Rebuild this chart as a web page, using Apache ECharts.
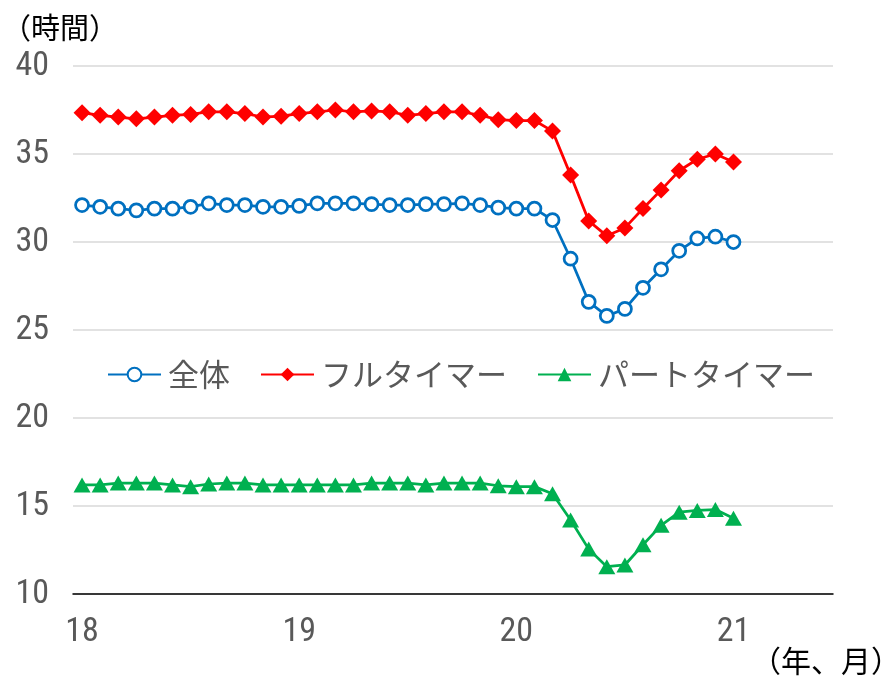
<!DOCTYPE html>
<html>
<head>
<meta charset="utf-8">
<script src="https://cdn.jsdelivr.net/npm/echarts@6/dist/echarts.min.js"></script>
<style>
  html, body { margin: 0; padding: 0; background: #fff; }
  #chart { width: 889px; height: 681px; }
</style>
</head>
<body>
<div id="chart"></div>
<script>
// Monthly categories Jan 2018 – Jun 2021 (data runs through Jan 2021)
const years = [2018, 2019, 2020, 2021];
const yearLabels = ['18', '19', '20', '21'];
const monthCount = 42;

// Average weekly working hours (時間)
const total = [
  32.1, 32.0, 31.9, 31.8, 31.9, 31.9, 32.0, 32.2, 32.1, 32.1, 32.0, 32.0,
  32.05, 32.2, 32.2, 32.2, 32.15, 32.1, 32.1, 32.15, 32.15, 32.2, 32.1, 31.95,
  31.9, 31.9, 31.25, 29.05, 26.6, 25.8, 26.2, 27.4, 28.45, 29.5, 30.2, 30.3,
  30.0
];
const fullTime = [
  37.35, 37.2, 37.1, 37.0, 37.1, 37.2, 37.25, 37.4, 37.4, 37.3, 37.1, 37.15,
  37.3, 37.4, 37.5, 37.4, 37.45, 37.4, 37.2, 37.3, 37.4, 37.4, 37.2, 36.95,
  36.9, 36.9, 36.3, 33.8, 31.2, 30.35, 30.8, 31.9, 32.95, 34.05, 34.7, 35.0,
  34.55
];
const partTime = [
  16.2, 16.2, 16.3, 16.3, 16.3, 16.2, 16.1, 16.25, 16.3, 16.3, 16.2, 16.2,
  16.2, 16.2, 16.2, 16.2, 16.3, 16.3, 16.3, 16.2, 16.3, 16.3, 16.3, 16.15,
  16.1, 16.1, 15.7, 14.2, 12.55, 11.55, 11.65, 12.8, 13.9, 14.65, 14.75, 14.8,
  14.3
];
const seriesNames = ['全体', 'フルタイマー', 'パートタイマー'];

const categories = [];
for (let i = 0; i < monthCount; i++) {
  const y = years[Math.floor(i / 12)];
  const m = (i % 12) + 1;
  categories.push(y + '-' + String(m).padStart(2, '0'));
}

const numFont = '"Roboto Condensed", Roboto, sans-serif';
const jpFont = '"Noto Sans CJK JP", sans-serif';
const gray = '#595959';

const chart = echarts.init(document.getElementById('chart'), null, { renderer: 'canvas' });

const option = {
  animation: false,
  backgroundColor: '#ffffff',
  title: [
    { text: '（時間）', left: 2, top: 13, padding: 0,
      textStyle: { fontFamily: jpFont, fontSize: 29, fontWeight: 'normal', color: '#000' } },
    { text: '（年、月）', left: 751, top: 646, padding: 0,
      textStyle: { fontFamily: jpFont, fontSize: 30, fontWeight: 'normal', color: '#000' } }
  ],
  legend: {
    data: seriesNames,
    left: 107,
    top: 359,
    padding: 0,
    itemWidth: 53,
    itemHeight: 17,
    itemGap: 30,
    textStyle: { fontFamily: jpFont, fontSize: 31, color: gray, padding: [0, 0, 0, 2] }
  },
  grid: { left: 73, right: 56, top: 66, bottom: 87, containLabel: false },
  xAxis: [
    {
      type: 'category',
      data: categories,
      boundaryGap: true,
      axisLine: { lineStyle: { color: '#000', width: 1.5 } },
      axisTick: { inside: true, length: 5, interval: 0, lineStyle: { color: '#000', width: 1.5 } },
      axisLabel: {
        interval: 0,
        margin: 21,
        fontFamily: numFont,
        fontSize: 34,
        color: gray,
        formatter: function (val, idx) {
          return idx % 12 === 0 ? yearLabels[idx / 12] : '';
        }
      },
      splitLine: { show: false }
    },
    {
      // longer ticks on the year boundaries
      type: 'category',
      data: categories,
      boundaryGap: true,
      position: 'bottom',
      axisLine: { show: false },
      axisTick: {
        inside: true, length: 8,
        interval: function (idx) { return idx % 12 === 0; },
        lineStyle: { color: '#000', width: 1.5 }
      },
      axisLabel: { show: false },
      splitLine: { show: false }
    }
  ],
  yAxis: {
    type: 'value',
    min: 10,
    max: 40,
    interval: 5,
    axisLine: { show: false },
    axisTick: { show: false },
    axisLabel: { margin: 24, fontFamily: numFont, fontSize: 34, color: gray },
    splitLine: { lineStyle: { color: '#d9d9d9', width: 1.5 } }
  },
  series: [
    {
      name: seriesNames[0],
      type: 'line',
      data: total,
      symbol: 'circle',
      symbolSize: 13,
      showAllSymbol: true,
      lineStyle: { color: '#0070c0', width: 2.75 },
      itemStyle: { color: '#ffffff', borderColor: '#0070c0', borderWidth: 2.75 },
      z: 3
    },
    {
      name: seriesNames[1],
      type: 'line',
      data: fullTime,
      symbol: 'diamond',
      symbolSize: 17,
      showAllSymbol: true,
      lineStyle: { color: '#ff0000', width: 2.75 },
      itemStyle: { color: '#ff0000' },
      z: 3
    },
    {
      name: seriesNames[2],
      type: 'line',
      data: partTime,
      symbol: 'triangle',
      symbolSize: [17, 15],
      showAllSymbol: true,
      lineStyle: { color: '#00b050', width: 2.75 },
      itemStyle: { color: '#00b050' },
      z: 3
    }
  ]
};

chart.setOption(option);
</script>
</body>
</html>
